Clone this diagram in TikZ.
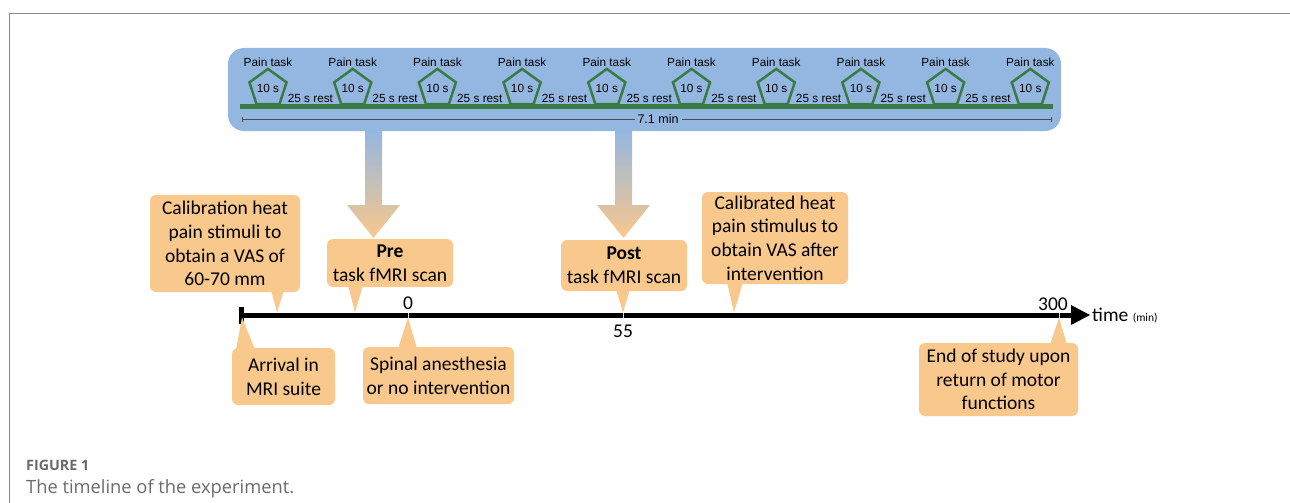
\documentclass[tikz,border=0pt]{standalone}
\usepackage{fontspec}
\setmainfont{Carlito}
\newfontfamily\arialf{Liberation Sans}
\newfontfamily\capf{Open Sans}
\usetikzlibrary{shapes.geometric,calc,arrows.meta}
\definecolor{panelblue}{HTML}{93B7E1}
\definecolor{boxorange}{HTML}{F9C88C}
\definecolor{taskgreen}{HTML}{3B7A45}
\definecolor{framegray}{HTML}{8A8A8A}
\definecolor{capgray}{HTML}{6A6A6A}
\newcommand\ptrdown[4]{\fill[boxorange] ($(#1.south -| #2)+(#3,-2)$) -- (#2) -- ($(#1.south -| #2)+(#4,-2)$) -- cycle;}
\newcommand\ptrup[4]{\fill[boxorange] ($(#1.north -| #2)+(#3,2)$) -- (#2) -- ($(#1.north -| #2)+(#4,2)$) -- cycle;}
\begin{document}
\begin{tikzpicture}[x=1pt,y=-1pt,
  panel/.style={fill=panelblue, rounded corners=16pt, inner sep=0pt},
  pent/.style={regular polygon, regular polygon sides=5, minimum size=38.6pt, inner sep=0pt, draw=taskgreen, line width=2.5pt, font=\arialf\fontsize{11.8}{13}\selectfont},
  tasklbl/.style={font=\arialf\fontsize{11.8}{13}\selectfont, inner sep=0pt},
  callout/.style={fill=boxorange, rounded corners=6pt, inner sep=0pt, align=center, font=\fontsize{19.5}{23.7}\selectfont},
  axlbl/.style={font=\fontsize{19.5}{23.7}\selectfont, inner sep=0pt, anchor=base},
  shadearrow/.style={top color=panelblue, bottom color=boxorange}
]
\useasboundingbox (0,0) rectangle (1290,503);
% frame
\draw[framegray, line width=1pt] (1291,14) -- (9,14) -- (9,504);

% blue panel
\node[panel, minimum width=833pt, minimum height=83pt] (panel) at (644.5,89.5) {};

% gradient arrows
\coordinate (preTop) at (373.5,130);
\coordinate (postTop) at (623.5,130);
\foreach \c in {preTop,postTop}{
  \shade[shadearrow] ($(\c)+(-8.5,0)$) -- ($(\c)+(-8.5,75)$) -- ($(\c)+(-26.5,75)$) -- ($(\c)+(0,108)$) -- ($(\c)+(26.5,75)$) -- ($(\c)+(8.5,75)$) -- ($(\c)+(8.5,0)$) -- cycle;
}

% green bar
\coordinate (barL) at (240,106.5);
\coordinate (barR) at (1053,106.5);
\draw[taskgreen, line width=5pt] (barL) -- (barR);

% pentagons
\foreach \i in {0,...,9}{
  \node[pent] (p\i) at ({268+84.7*\i},88.4) {10 s};
  \node[tasklbl] (pt\i) at ({268+84.7*\i},62.7) {Pain task};
}
\foreach \i in {0,...,8}{
  \node[tasklbl] (r\i) at ({310.4+84.7*\i},98.3) {25 s rest};
}

% 7.1 min span
\coordinate (spanL) at (242,119);
\coordinate (spanR) at (1052,119);
\draw[black!70, line width=0.8pt, {Bar[width=5pt]}-{Bar[width=5pt]}] (spanL) -- (spanR);
\node[fill=panelblue, inner xsep=3pt, inner ysep=1pt, font=\arialf\fontsize{12.5}{14}\selectfont] (span) at (658,119) {7.1 min};

% timeline axis
\coordinate (axS) at (241,315);
\coordinate (axE) at (1072,315);
\draw[black, line width=5pt] (axS) -- (axE);
\fill[black] (239,307) rectangle (243.5,324);
\fill[black] (1071,305) -- (1090,315) -- (1071,325) -- cycle;
\foreach \x in {408,623,1059}{
  \draw[white!70!gray, line width=1pt] (\x,312.5) -- (\x,317.5);
}
\node[axlbl] (l0) at (408,309) {0};
\node[axlbl] (l55) at (623,337) {55};
\node[axlbl] (l300) at (1053,310) {300};
\node[font=\fontsize{19.5}{23.7}\selectfont, inner sep=0pt, anchor=base west] (tlbl) at (1092,321) {time {\fontsize{11.5}{14}\selectfont(min)}};

% callouts
\node[callout, minimum width=150pt, minimum height=97pt] (calib) at (225,243.5) {Calibration heat\\pain stimuli to\\obtain a VAS of\\60-70 mm};
\coordinate (calibTip) at (277,312.5);
\ptrdown{calib}{calibTip}{-6}{7}

\node[callout, minimum width=126pt, minimum height=48pt] (pre) at (390,263) {\textbf{Pre}\\task fMRI scan};
\coordinate (preTip) at (355,312.5);
\ptrdown{pre}{preTip}{-7}{8}

\node[callout, minimum width=126pt, minimum height=51pt] (post) at (624,265.5) {\textbf{Post}\\task fMRI scan};
\coordinate (postTip) at (623,312.5);
\ptrdown{post}{postTip}{-7}{7}

\node[callout, minimum width=146pt, minimum height=92pt] (calibd) at (775,238) {Calibrated heat\\pain stimulus to\\obtain VAS after\\intervention};
\coordinate (calibdTip) at (734,312.5);
\ptrdown{calibd}{calibdTip}{-7}{9}

\node[callout, minimum width=103pt, minimum height=57pt] (arrive) at (283.5,376.5) {Arrival in\\MRI suite};
\coordinate (arriveTip) at (242,317.5);
\ptrup{arrive}{arriveTip}{-6}{13}

\node[callout, minimum width=151pt, minimum height=57pt] (spinal) at (438.5,375.5) {Spinal anesthesia\\or no intervention};
\coordinate (spinalTip) at (408,317.5);
\ptrup{spinal}{spinalTip}{-10}{9}

\node[callout, minimum width=159pt, minimum height=73pt] (endst) at (998.5,379.5) {End of study upon\\return of motor\\functions};
\coordinate (endTip) at (1059,317.5);
\ptrup{endst}{endTip}{-9}{8}

% caption
\node[anchor=base west, inner sep=0pt, text=capgray, font=\capf\bfseries\fontsize{14.3}{17}\selectfont] (fig) at (26,470) {FIGURE 1};
\node[anchor=base west, inner sep=0pt, text=capgray, font=\capf\fontsize{18.3}{22}\selectfont] (cap) at (26,493) {The timeline of the experiment.};
\end{tikzpicture}
\end{document}
